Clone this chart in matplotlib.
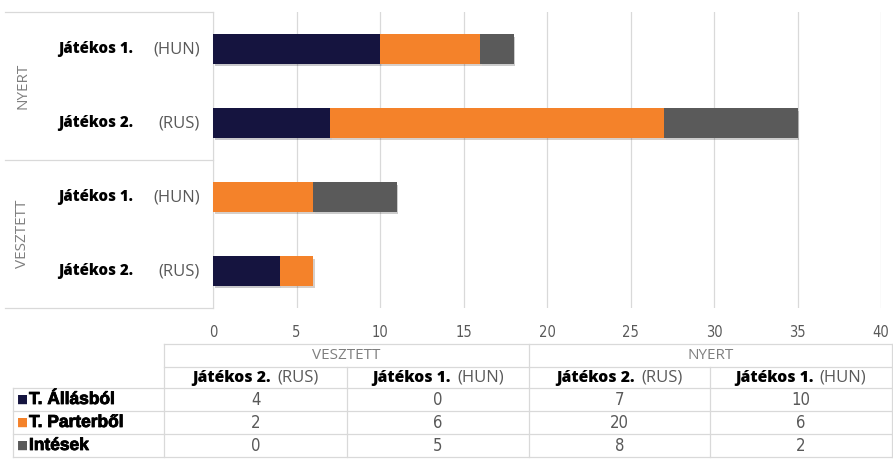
import matplotlib
matplotlib.use("Agg")
import matplotlib.pyplot as plt
from matplotlib import font_manager
import matplotlib.patheffects as pe

# ---- data ----
groups = ["VESZTETT", "VESZTETT", "NYERT", "NYERT"]
players = ["Játékos 2.", "Játékos 1.", "Játékos 2.", "Játékos 1."]
countries = ["(RUS)", "(HUN)", "(RUS)", "(HUN)"]
series_names = ["T. Állásból", "T. Parterből", "Intések"]
allas = [4, 0, 7, 10]
parter = [2, 6, 20, 6]
intesek = [0, 5, 8, 2]
xticks = [0, 5, 10, 15, 20, 25, 30, 35, 40]

colors = ["#15143f", "#f4822a", "#5a5a5a"]
grid_c = "#d9d9d9"
txt_gray = "#595959"
hdr_gray = "#7f7f7f"

names = {f.name for f in font_manager.fontManager.ttflist}
if "Liberation Sans Narrow" in names:
    narrow = dict(family="Liberation Sans Narrow")
else:
    narrow = dict(family="DejaVu Sans", fontstretch="condensed")
sans = "Open Sans" if "Open Sans" in names else "DejaVu Sans"

W, H = 893, 461
fig = plt.figure(figsize=(W / 100, H / 100), dpi=100)
fig.patch.set_facecolor("white")

# main axes
x0, x1, yt, yb = 213, 881, 12, 308
ax = fig.add_axes([x0 / W, 1 - yb / H, (x1 - x0) / W, (yb - yt) / H])
ypos = list(range(len(allas)))
series = [allas, parter, intesek]
left = [0] * len(allas)
shadow = [pe.SimplePatchShadow(offset=(1.2, -1.8), alpha=0.22), pe.Normal()]
for vals, c in zip(series, colors):
    bars = ax.barh(ypos, vals, left=left, height=0.4, color=c, zorder=3)
    for b in bars:
        b.set_path_effects(shadow)
    left = [l + v for l, v in zip(left, vals)]

ax.set_xlim(0, 40)
ax.set_ylim(-0.5, 3.5)
ax.set_xticks(xticks)
ax.set_xticklabels([str(t) for t in xticks], fontsize=10.5, color=txt_gray, **narrow)
ax.tick_params(axis="x", length=0, pad=12)
ax.set_yticks([])
ax.grid(axis="x", color=grid_c, linewidth=0.9, zorder=0)
for s in ["top", "right", "bottom"]:
    ax.spines[s].set_visible(False)
ax.spines["left"].set_color(grid_c)

# category labels
ytr = ax.get_yaxis_transform()
fx = lambda px: (px - x0) / (x1 - x0)
for y, p, c in zip(ypos, players, countries):
    ax.text(fx(58), y, p, transform=ytr, ha="left", va="center",
            fontsize=10.8, fontweight=800, family=sans, color="black")
    ax.text(fx(200), y, c, transform=ytr, ha="right", va="center",
            fontsize=12, family=sans, color=txt_gray)

# group labels
ug = []
for g in groups:
    if g not in ug:
        ug.append(g)
for g in ug:
    idx = [i for i, gg in enumerate(groups) if gg == g]
    yc = sum(idx) / len(idx)
    ax.text(fx(23), yc, g, transform=ytr, ha="center", va="center",
            rotation=90, fontsize=11, family=sans, color=hdr_gray)

# overlay in pixel coords
ov = fig.add_axes([0, 0, 1, 1], zorder=5)
ov.set_xlim(0, W)
ov.set_ylim(H, 0)
ov.axis("off")
ov.patch.set_alpha(0)

lw = 0.9
for yy in [12, 160, 308]:
    ov.plot([5, 213], [yy, yy], color=grid_c, lw=lw)

# table
cols = [164, 347, 529, 710, 892]
rows = [344, 367, 388, 411, 434, 457]
lx = 13
ov.plot([cols[0], cols[-1]], [rows[0], rows[0]], color=grid_c, lw=lw)
ov.plot([cols[0], cols[-1]], [rows[1], rows[1]], color=grid_c, lw=lw)
for r in rows[2:]:
    ov.plot([lx, cols[-1]], [r, r], color=grid_c, lw=lw)
ov.plot([cols[0], cols[0]], [rows[0], rows[-1]], color=grid_c, lw=lw)
ov.plot([cols[-1], cols[-1]], [rows[0], rows[-1]], color=grid_c, lw=lw)
ov.plot([cols[2], cols[2]], [rows[0], rows[-1]], color=grid_c, lw=lw)
for ci in [1, 3]:
    ov.plot([cols[ci], cols[ci]], [rows[1], rows[-1]], color=grid_c, lw=lw)
ov.plot([lx, lx], [rows[2], rows[-1]], color=grid_c, lw=lw)

# group header
for g in ug:
    idx = [i for i, gg in enumerate(groups) if gg == g]
    xc = (cols[idx[0]] + cols[idx[-1] + 1]) / 2
    ov.text(xc, (rows[0] + rows[1]) / 2, g, ha="center", va="center",
            fontsize=11, family=sans, color=hdr_gray)

# player header (bold name + gray country, centred as a pair)
fig.canvas.draw()
renderer = fig.canvas.get_renderer()
gap = 6
for i, (p, c) in enumerate(zip(players, countries)):
    xc = (cols[i] + cols[i + 1]) / 2
    yc = (rows[1] + rows[2]) / 2
    t1 = ov.text(0, yc, p, ha="left", va="center", fontsize=11.3,
                 fontweight=800, family=sans, color="black")
    t2 = ov.text(0, yc, c, ha="left", va="center", fontsize=12,
                 family=sans, color=txt_gray)
    w1 = t1.get_window_extent(renderer).width
    w2 = t2.get_window_extent(renderer).width
    start = xc - (w1 + gap + w2) / 2
    t1.set_x(start)
    t2.set_x(start + w1 + gap)

# series rows
heavy = [pe.withStroke(linewidth=0.6, foreground="black")]
for si, (name, vals, c) in enumerate(zip(series_names, series, colors)):
    yc = (rows[2 + si] + rows[3 + si]) / 2
    ov.text(17, yc, "■", ha="left", va="center", fontsize=8.5, color=c, family="DejaVu Sans")
    ov.text(29, yc, name, ha="left", va="center", fontsize=12.5, fontweight="bold",
            family="Liberation Sans", color="black", path_effects=heavy)
    for i, v in enumerate(vals):
        xc = (cols[i] + cols[i + 1]) / 2
        ov.text(xc, yc, str(v), ha="center", va="center", fontsize=12,
                color=txt_gray, **narrow)

fig.savefig("out.png", dpi=100, facecolor="white")
